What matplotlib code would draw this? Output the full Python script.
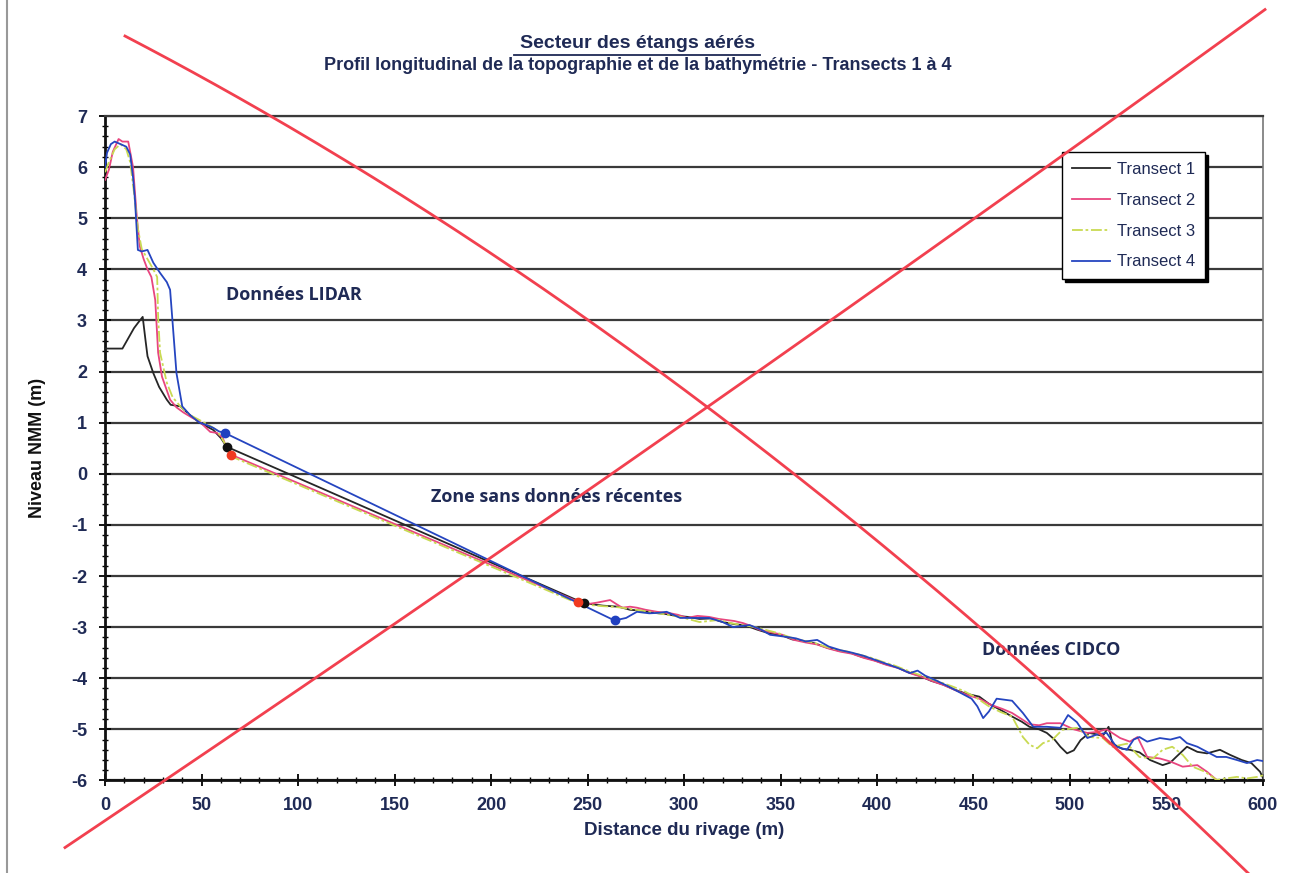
import numpy as np
import matplotlib
matplotlib.use("Agg")
import matplotlib.pyplot as plt
from matplotlib.ticker import MultipleLocator
from matplotlib.lines import Line2D

# ---------------- data ----------------
t1_x = [0, 5, 9, 12, 15, 17, 19.5, 21, 22, 25, 28, 32, 34, 39, 44, 49, 53, 56, 60, 63,
        248, 252, 258, 266, 272, 278, 284, 290, 296, 302, 308, 314, 320, 326, 332, 338, 344, 350,
        356, 362, 368, 374, 380, 386, 392, 398, 404, 410, 416, 422, 428, 434, 440, 446, 453, 458,
        464, 470, 475, 479, 484, 488, 492, 495, 498.5, 502, 505.5, 510, 514, 517, 520, 522, 527,
        531, 536, 541.5, 548, 552, 555, 560.6, 566, 571, 577.7, 583, 589, 594, 598.5, 600]
t1_y = [2.45, 2.45, 2.45, 2.65, 2.85, 2.95, 3.07, 2.6, 2.3, 1.97, 1.7, 1.45, 1.35, 1.32, 1.15, 1.0, 0.92, 0.86, 0.7, 0.53,
        -2.53, -2.55, -2.58, -2.6, -2.66, -2.68, -2.72, -2.74, -2.78, -2.8, -2.84, -2.83, -2.9, -2.94, -2.97, -3.05, -3.12, -3.15,
        -3.24, -3.27, -3.32, -3.4, -3.46, -3.5, -3.58, -3.64, -3.72, -3.78, -3.88, -3.95, -4.05, -4.12, -4.22, -4.3, -4.36, -4.5,
        -4.62, -4.75, -4.85, -4.95, -5.0, -5.07, -5.2, -5.34, -5.47, -5.41, -5.21, -5.07, -5.1, -5.13, -4.95, -5.28, -5.38,
        -5.4, -5.45, -5.6, -5.7, -5.65, -5.54, -5.34, -5.44, -5.47, -5.4, -5.5, -5.6, -5.66, -5.83, -5.95]

t2_x = [0, 2, 4, 7, 9, 12, 14.5, 16.5, 18, 20, 22, 24, 26, 27.5, 29.5, 33.7, 37, 40.6, 45, 49, 54.5, 58, 61, 63, 65.5,
        245, 250, 255, 261.7, 265, 268, 272, 275.6, 280, 286, 293, 297, 301.5, 307, 313, 318, 322, 326, 330.5, 335, 339,
        345, 351, 357, 363, 369, 375, 381, 387, 393, 399, 405, 411, 417, 423, 429, 435, 441, 447, 453, 459, 465, 470,
        475, 479, 484, 488, 495, 502, 509, 514, 519, 526, 531, 535, 540, 546.6, 552, 558.4, 566, 571, 576, 582, 590, 600]
t2_y = [5.75, 5.95, 6.3, 6.55, 6.5, 6.5, 6.0, 5.0, 4.45, 4.2, 4.0, 3.85, 3.4, 2.37, 1.9, 1.45, 1.3, 1.2, 1.1, 1.02, 0.82, 0.8, 0.7, 0.5, 0.37,
        -2.5, -2.55, -2.52, -2.47, -2.55, -2.62, -2.6, -2.62, -2.66, -2.7, -2.73, -2.76, -2.82, -2.78, -2.8, -2.84, -2.86, -2.88, -2.92, -2.98, -3.05,
        -3.1, -3.15, -3.25, -3.3, -3.34, -3.42, -3.48, -3.52, -3.6, -3.66, -3.74, -3.8, -3.9, -3.97, -4.06, -4.14, -4.24, -4.33, -4.4, -4.52, -4.6, -4.68,
        -4.8, -4.9, -4.92, -4.88, -4.88, -5.0, -5.07, -5.05, -5.0, -5.17, -5.24, -5.15, -5.54, -5.57, -5.63, -5.73, -5.7, -5.83, -5.99, -6.05, -6.1, -6.15]

t3_x = [0, 2, 5, 8, 11, 13, 15, 17, 19, 22, 25, 27, 27.5, 28.5, 32, 35, 39, 44, 49, 54, 58, 62, 66,
        246, 252, 258, 263, 268, 275, 282, 290, 298, 304, 308, 313, 318, 324, 330, 337, 343, 349, 355, 361, 367,
        373, 379, 385, 391, 397, 403, 409, 415, 421, 427, 433, 439, 445, 450, 453, 458, 464, 470, 475.6, 479, 483,
        486, 491, 496, 503.6, 510, 517, 522, 529.5, 536, 543, 548, 553, 558.4, 563.5, 570, 576, 581, 586.5, 591.7, 597, 600]
t3_y = [5.9, 6.1, 6.35, 6.45, 6.35, 6.1, 5.5, 4.8, 4.4, 4.2, 4.0, 3.85, 3.07, 2.37, 1.78, 1.5, 1.32, 1.15, 1.05, 0.95, 0.85, 0.6, 0.33,
        -2.55, -2.57, -2.59, -2.6, -2.62, -2.66, -2.7, -2.75, -2.8, -2.86, -2.9, -2.88, -2.86, -2.92, -2.96, -3.0, -3.06, -3.12, -3.2, -3.26, -3.3,
        -3.38, -3.44, -3.48, -3.54, -3.6, -3.68, -3.75, -3.84, -3.92, -4.0, -4.08, -4.16, -4.25, -4.35, -4.42, -4.55, -4.66, -4.75, -5.15, -5.3, -5.37,
        -5.27, -5.2, -5.01, -4.97, -5.15, -5.17, -5.34, -5.28, -5.54, -5.57, -5.4, -5.34, -5.5, -5.73, -5.83, -5.99, -5.96, -5.93, -5.96, -5.93, -5.9]

t4_x = [0, 1, 3, 5, 8, 11, 13, 14.5, 15.5, 17, 19, 22, 25, 28.5, 32, 33.7, 35.4, 37, 40, 44, 49, 53, 56, 59, 62,
        264, 270, 275.6, 282, 287, 291, 298, 304.7, 313, 320, 325.4, 334, 340, 344.6, 353, 358, 363, 369, 375, 381,
        387, 393, 399, 405, 411, 417, 421, 425, 431, 437, 443, 449, 452, 455, 458, 462, 466, 470, 475.6, 481, 488,
        495, 499, 503.6, 509, 514, 519, 524, 529.5, 533, 536, 540, 546.6, 552, 557, 560.6, 566, 571, 576, 581, 586.5,
        591.7, 597, 600]
t4_y = [6.0, 6.28, 6.45, 6.5, 6.45, 6.4, 6.25, 5.8, 5.36, 4.38, 4.35, 4.38, 4.13, 3.93, 3.75, 3.6, 2.76, 1.97, 1.32, 1.15, 1.0, 0.95, 0.9, 0.83, 0.8,
        -2.87, -2.82, -2.7, -2.73, -2.72, -2.7, -2.82, -2.82, -2.82, -2.9, -3.0, -2.96, -3.05, -3.15, -3.19, -3.22, -3.28, -3.25, -3.38, -3.45,
        -3.5, -3.56, -3.64, -3.72, -3.8, -3.9, -3.85, -3.95, -4.05, -4.16, -4.28, -4.4, -4.55, -4.78, -4.65, -4.4, -4.42, -4.44, -4.68, -4.95, -4.95,
        -4.97, -4.72, -4.86, -5.17, -5.1, -5.07, -5.34, -5.4, -5.2, -5.15, -5.24, -5.17, -5.2, -5.15, -5.27, -5.34, -5.44, -5.54, -5.54, -5.6,
        -5.66, -5.6, -5.62]

# endpoints of LIDAR / CIDCO segments (markers)
mk1_x = [63, 248]
mk1_y = [0.53, -2.53]
mk2_x = [65.5, 245]
mk2_y = [0.37, -2.5]
mk4_x = [62, 264]
mk4_y = [0.8, -2.87]

labels = ["Transect 1", "Transect 2", "Transect 3", "Transect 4"]
colors = ["#262626", "#E8457F", "#C9DA52", "#2545C0"]

title1 = "Secteur des étangs aérés"
title2 = "Profil longitudinal de la topographie et de la bathymétrie - Transects 1 à 4"
xlabel = "Distance du rivage (m)"
ylabel = "Niveau NMM (m)"
notes = [("Données LIDAR", 98, 3.5), ("Zone sans données récentes", 234, -0.45), ("Données CIDCO", 490, -3.45)]

# ---------------- figure ----------------
NAVY = "#1F2A55"
plt.rcParams['font.family'] = ["Liberation Sans", "DejaVu Sans"]
plt.rcParams['axes.unicode_minus'] = False

fig = plt.figure(figsize=(13.1, 8.73), dpi=100)
ax = fig.add_axes([0.0802, 0.1060, 0.8839, 0.7611])

for yv in range(-6, 8):
    ax.axhline(yv, color="#3a3a3a", lw=1.6, zorder=1)

ax.plot(t1_x, t1_y, color=colors[0], lw=1.3, label=labels[0], zorder=3)
ax.plot(t2_x, t2_y, color=colors[1], lw=1.3, label=labels[1], zorder=3)
ax.plot(t3_x, t3_y, color=colors[2], lw=1.3, ls=(0, (6, 1.5, 1.5, 1.5)), label=labels[2], zorder=3)
ax.plot(t4_x, t4_y, color=colors[3], lw=1.3, label=labels[3], zorder=3)

ax.plot(mk1_x, mk1_y, 'o', color="#111111", ms=6, zorder=4)
ax.plot(mk2_x, mk2_y, 'o', color="#F03A20", ms=6, zorder=4)
ax.plot(mk4_x, mk4_y, 'o', color="#2040C0", ms=6, zorder=4)

ax.set_xlim(0, 600)
ax.set_ylim(-6, 7)
ax.xaxis.set_major_locator(MultipleLocator(50))
ax.xaxis.set_minor_locator(MultipleLocator(10))
ax.yaxis.set_major_locator(MultipleLocator(1))
ax.yaxis.set_minor_locator(MultipleLocator(0.2))
ax.tick_params(axis='both', which='major', direction='inout', length=8, width=1.3,
               labelsize=13, labelcolor=NAVY)
ax.tick_params(axis='both', which='minor', direction='inout', length=4, width=1.0)
ax.tick_params(axis='x', pad=8)
ax.tick_params(axis='y', pad=9)
for lab in ax.get_xticklabels() + ax.get_yticklabels():
    lab.set_fontweight('bold')

for s in ["left", "bottom"]:
    ax.spines[s].set_linewidth(2.0)
    ax.spines[s].set_color("#111111")
ax.spines["top"].set_linewidth(1.6)
ax.spines["top"].set_color("#3a3a3a")
ax.spines["right"].set_linewidth(1.2)
ax.spines["right"].set_color("#777777")

ax.set_xlabel(xlabel, fontsize=13.5, fontweight='bold', color=NAVY, labelpad=6)
ax.set_ylabel(ylabel, fontsize=13, fontweight='bold', color="#111111", labelpad=18)

for txt, xx, yy in notes:
    ax.text(xx, yy, txt, fontsize=13, fontweight='bold', color=NAVY,
            family=["Open Sans", "DejaVu Sans"], ha='center', va='center', zorder=5)

leg = ax.legend(loc='upper right', bbox_to_anchor=(0.95, 0.946), borderaxespad=0, frameon=True,
                fancybox=False, shadow={'color': 'black', 'alpha': 1.0}, edgecolor='black',
                fontsize=12, handlelength=2.3, handletextpad=0.4, borderpad=0.6,
                labelspacing=0.95, framealpha=1)
leg.get_frame().set_linewidth(1.0)
for t in leg.get_texts():
    t.set_color(NAVY)

fig.text(0.487, 0.950, title1, ha='center', va='center', fontsize=14, fontweight='bold', color=NAVY)
fig.add_artist(Line2D([0.392, 0.580], [0.9375, 0.9375], color=NAVY, lw=1.3))
fig.text(0.487, 0.925, title2, ha='center', va='center', fontsize=13, fontweight='bold', color=NAVY)

# red cross overlay (pixel coordinates of the picture)
ov = fig.add_axes([0, 0, 1, 1], zorder=10)
ov.set_xlim(0, 1310)
ov.set_ylim(873, 0)
ov.axis('off')
ov.patch.set_alpha(0)
ca_x = [125, 243, 320, 712, 1030, 1250]
ca_y = [40, 100, 140, 408, 680, 870]
cb_x = [65, 167, 712, 1060, 1265]
cb_y = [850, 775, 408, 152, 12]
pa = np.polyfit(ca_x, ca_y, 2)
pb = np.polyfit(cb_x, cb_y, 2)
xa = np.linspace(125, 1250, 200)
xb = np.linspace(65, 1265, 200)
ov.plot(xa, np.polyval(pa, xa), color="#F2404F", lw=2.0)
ov.plot(xb, np.polyval(pb, xb), color="#F2404F", lw=2.0)
ov.plot([7, 7], [0, 873], color="#999999", lw=1.5)

fig.savefig("out.png", dpi=100)
